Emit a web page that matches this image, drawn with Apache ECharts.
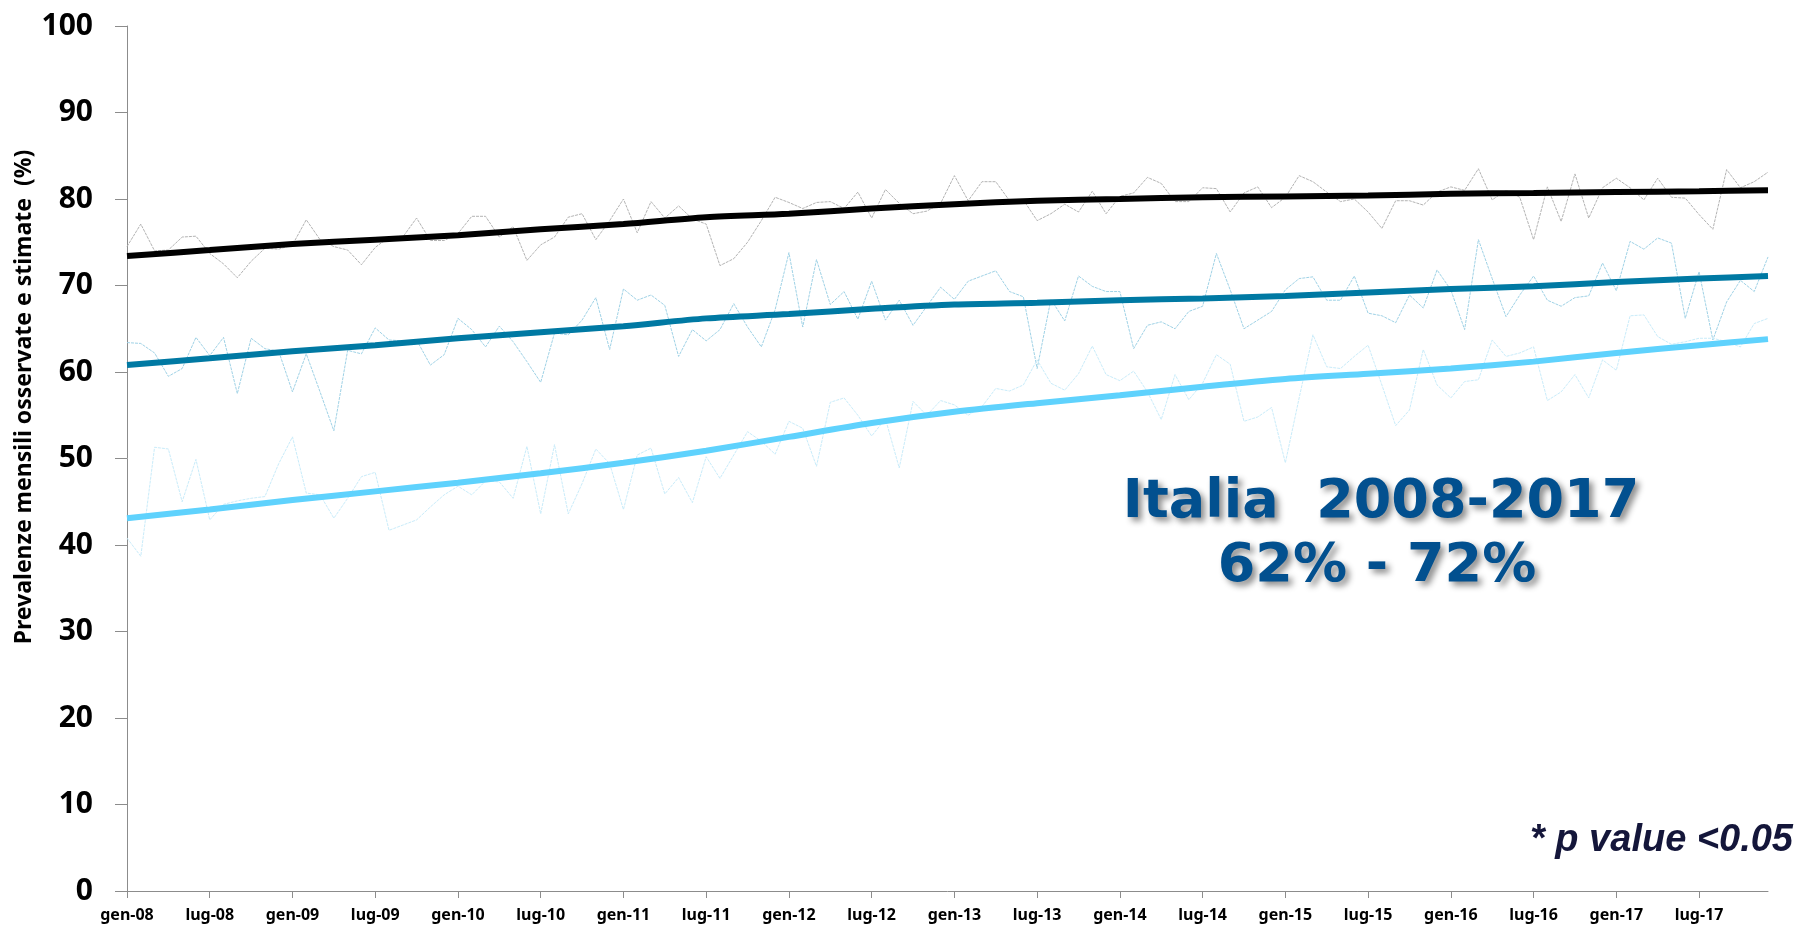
<!DOCTYPE html>
<html>
<head>
<meta charset="utf-8">
<script src="https://cdn.jsdelivr.net/npm/echarts@6/dist/echarts.min.js"></script>
<style>
  html, body { margin: 0; padding: 0; background: #fff; }
  #chart { width: 1797px; height: 927px; }
</style>
</head>
<body>
<div id="chart"></div>
<script>
// month names (Italian) and years used to build the 120 monthly categories
const monthNames = ['gen', 'feb', 'mar', 'apr', 'mag', 'giu', 'lug', 'ago', 'set', 'ott', 'nov', 'dic']
const years = ['08', '09', '10', '11', '12', '13', '14', '15', '16', '17']

// months at which the fitted trend lines were read
const trendMonths = ['gen-08', 'lug-08', 'gen-09', 'lug-09', 'gen-10', 'lug-10', 'gen-11', 'lug-11',
  'gen-12', 'lug-12', 'gen-13', 'lug-13', 'gen-14', 'lug-14', 'gen-15', 'lug-15', 'gen-16', 'lug-16',
  'gen-17', 'lug-17', 'dic-17']

// observed monthly prevalences
const obsBlack = [74.5, 77.1, 74.0, 74.1, 75.6, 75.7, 73.7, 72.5, 70.9, 72.8, 74.3, 74.2,
  74.7, 77.6, 75.3, 74.5, 74.1, 72.4, 74.4, 75.6, 75.6, 77.8, 75.2, 75.2,
  76.0, 78.0, 78.0, 75.6, 76.8, 72.9, 74.7, 75.6, 77.9, 78.3, 75.3, 77.5,
  80.0, 76.1, 79.7, 77.8, 79.2, 77.7, 77.1, 72.3, 73.1, 75.0, 77.5, 80.2,
  79.6, 78.9, 79.6, 79.7, 78.9, 80.8, 77.8, 81.1, 79.5, 78.3, 78.6, 79.5,
  82.7, 79.8, 82.0, 82.0, 79.8, 79.9, 77.5, 78.3, 79.4, 78.5, 80.9, 78.3,
  80.3, 80.7, 82.5, 81.8, 79.7, 79.7, 81.3, 81.2, 78.5, 80.7, 81.4, 79.0,
  80.2, 82.7, 82.0, 80.8, 79.7, 80.0, 78.5, 76.6, 79.8, 79.8, 79.3, 80.8,
  81.4, 81.0, 83.5, 79.9, 81.0, 80.2, 75.3, 81.4, 77.4, 82.9, 77.8, 81.3,
  82.4, 81.3, 79.9, 82.4, 80.2, 80.1, 78.2, 76.5, 83.4, 81.3, 82.0, 83.1]

const obsTeal = [63.4, 63.3, 62.2, 59.5, 60.4, 64.0, 61.9, 64.0, 57.5, 63.9, 62.7, 62.4,
  57.7, 62.1, 57.7, 53.2, 62.5, 62.1, 65.1, 63.7, 63.6, 63.7, 60.8, 62.0,
  66.2, 64.9, 62.9, 65.3, 63.5, 61.2, 58.8, 64.5, 64.3, 66.0, 68.6, 62.6,
  69.6, 68.3, 68.9, 67.7, 61.8, 64.9, 63.6, 64.9, 67.9, 65.2, 62.9, 67.2,
  73.8, 65.2, 73.0, 67.8, 69.3, 66.1, 70.5, 66.0, 68.3, 65.4, 67.6, 69.8,
  68.4, 70.5, 71.1, 71.7, 69.3, 68.7, 60.4, 68.4, 65.9, 71.1, 69.9, 69.3,
  69.3, 62.7, 65.4, 65.8, 65.0, 67.0, 67.6, 73.7, 69.5, 65.0, 66.0, 67.0,
  69.5, 70.8, 71.0, 68.3, 68.3, 71.1, 66.8, 66.5, 65.7, 68.9, 67.4, 71.8,
  69.5, 64.9, 75.3, 70.8, 66.4, 68.9, 71.1, 68.3, 67.6, 68.6, 68.8, 72.6,
  69.4, 75.1, 74.2, 75.5, 74.9, 66.2, 71.6, 63.7, 68.1, 70.6, 69.3, 73.3]

const obsLight = [40.8, 38.7, 51.3, 51.1, 45.0, 49.9, 42.9, 44.7, 45.1, 45.4, 45.6, 49.4,
  52.5, 46.0, 45.8, 43.1, 45.4, 47.9, 48.4, 41.7, 42.3, 42.9, 44.4, 45.8,
  46.8, 45.8, 47.4, 47.3, 45.4, 51.4, 43.6, 51.6, 43.6, 47.1, 51.1, 49.4,
  44.1, 50.4, 51.2, 45.9, 47.8, 44.9, 50.2, 47.7, 50.4, 53.1, 52.0, 50.5,
  54.3, 53.5, 49.1, 56.5, 57.0, 55.0, 52.6, 54.6, 48.9, 56.6, 55.0, 56.7,
  56.2, 55.0, 56.0, 58.1, 57.8, 58.5, 61.4, 58.7, 57.9, 59.8, 63.0, 59.7,
  59.0, 60.1, 57.7, 54.5, 59.7, 56.8, 58.7, 62.0, 60.9, 54.3, 54.8, 55.9,
  49.5, 57.0, 64.3, 60.6, 60.4, 61.8, 63.1, 58.5, 53.8, 55.6, 62.6, 58.5,
  57.0, 58.9, 59.1, 63.7, 61.8, 62.2, 62.9, 56.7, 57.7, 59.7, 57.0, 61.4,
  60.2, 66.5, 66.6, 64.1, 63.2, 63.5, 63.9, 63.9, 63.5, 62.9, 65.6, 66.2]

// estimated trends
const trendBlack = [73.4, 74.1, 74.8, 75.3, 75.8, 76.5, 77.1, 77.9, 78.3, 78.9, 79.4,
  79.8, 80.0, 80.2, 80.3, 80.4, 80.6, 80.7, 80.8, 80.9, 81.0]
const trendTeal = [60.8, 61.6, 62.4, 63.1, 63.9, 64.6, 65.3, 66.2, 66.7, 67.3, 67.8,
  68.0, 68.3, 68.5, 68.8, 69.2, 69.6, 69.9, 70.4, 70.8, 71.1]
const trendLight = [43.1, 44.1, 45.2, 46.2, 47.2, 48.3, 49.5, 50.9, 52.5, 54.1, 55.4,
  56.4, 57.3, 58.3, 59.2, 59.8, 60.4, 61.2, 62.2, 63.1, 63.8]

const yTicks = { min: 0, max: 100, interval: 10 }

const categories = []
years.forEach(y => monthNames.forEach(m => categories.push(m + '-' + y)))

const pairs = vals => trendMonths.map((m, i) => [m, vals[i]])

const chart = echarts.init(document.getElementById('chart'))

const obsLine = (data, color) => ({
  type: 'line',
  data: data,
  symbol: 'none',
  silent: true,
  z: 2,
  lineStyle: { color: color, width: 1, type: [3, 1] }
})

const trendLine = (data, color) => ({
  type: 'line',
  data: pairs(data),
  symbol: 'none',
  smooth: 0.3,
  silent: true,
  z: 5,
  lineStyle: { color: color, width: 6 }
})

const shadow = {
  textShadowColor: 'rgba(0,0,0,0.45)',
  textShadowBlur: 6,
  textShadowOffsetX: 4,
  textShadowOffsetY: 4
}

const option = {
  animation: false,
  backgroundColor: '#fff',
  grid: { left: 127, right: 29, top: 26, bottom: 36, containLabel: false },
  xAxis: {
    type: 'category',
    data: categories,
    boundaryGap: false,
    axisLine: { lineStyle: { color: '#8c8c8c', width: 1 } },
    axisTick: { interval: 5, length: 7, lineStyle: { color: '#8c8c8c' } },
    axisLabel: {
      interval: 5,
      margin: 16,
      color: '#000',
      fontFamily: 'Noto Sans',
      fontWeight: 'bold',
      fontSize: 16
    },
    splitLine: { show: false }
  },
  yAxis: {
    type: 'value',
    min: yTicks.min,
    max: yTicks.max,
    interval: yTicks.interval,
    axisLine: { show: true, lineStyle: { color: '#8c8c8c', width: 1 } },
    axisTick: { show: true, length: 12, lineStyle: { color: '#8c8c8c' } },
    axisLabel: {
      margin: 34,
      color: '#000',
      fontFamily: 'Noto Sans',
      fontWeight: 'bold',
      fontSize: 30
    },
    splitLine: { show: false }
  },
  graphic: [
    {
      type: 'text',
      x: 24,
      y: 397,
      rotation: Math.PI / 2,
      style: {
        text: 'Prevalenze mensili osservate e stimate  (%)',
        fill: '#000',
        font: 'bold 23px "Noto Sans"',
        align: 'center',
        verticalAlign: 'middle'
      }
    },
    {
      type: 'text',
      x: 1381,
      y: 503,
      style: Object.assign({
        text: 'Italia  2008-2017',
        fill: '#02508f',
        font: 'bold 54px "DejaVu Sans"',
        align: 'center',
        verticalAlign: 'middle'
      }, shadow)
    },
    {
      type: 'text',
      x: 1377,
      y: 567,
      style: Object.assign({
        text: '62% - 72%',
        fill: '#02508f',
        font: 'bold 54px "DejaVu Sans"',
        align: 'center',
        verticalAlign: 'middle'
      }, shadow)
    },
    {
      type: 'text',
      x: 1793,
      y: 841,
      style: {
        text: '* p value <0.05',
        fill: '#14163a',
        font: 'italic bold 38px "Liberation Sans"',
        align: 'right',
        verticalAlign: 'middle'
      }
    }
  ],
  series: [
    obsLine(obsBlack, '#b3b3b3'),
    obsLine(obsTeal, '#9fd2e6'),
    obsLine(obsLight, '#c9ecfa'),
    trendLine(trendBlack, '#000000'),
    trendLine(trendTeal, '#0079a3'),
    trendLine(trendLight, '#5fd2fd')
  ]
}

chart.setOption(option)
window.addEventListener('resize', function () {
  chart.resize()
})
</script>
</body>
</html>
